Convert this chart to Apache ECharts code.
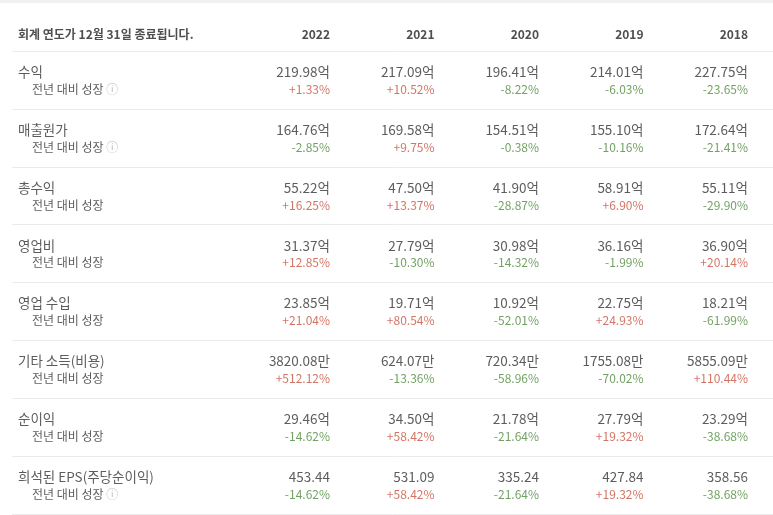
<!DOCTYPE html>
<html><head><meta charset="utf-8">
<script src="https://cdn.jsdelivr.net/npm/echarts@6/dist/echarts.min.js"></script>
<style>html,body{margin:0;padding:0;background:#fff}#c{width:773px;height:515px}</style>
</head><body><div id="c"></div>
<script>
const headerTitle = '회계 연도가 12월 31일 종료됩니다.';
const years = ['2022','2021','2020','2019','2018'];
const rowNames = ['수익','매출원가','총수익','영업비','영업 수입','기타 소득(비용)','순이익','희석된 EPS(주당순이익)'];
const infoRows = [true,true,false,false,false,false,false,true];
const subLabel = '전년 대비 성장';
const values = [
  ['219.98억','217.09억','196.41억','214.01억','227.75억'],
  ['164.76억','169.58억','154.51억','155.10억','172.64억'],
  ['55.22억','47.50억','41.90억','58.91억','55.11억'],
  ['31.37억','27.79억','30.98억','36.16억','36.90억'],
  ['23.85억','19.71억','10.92억','22.75억','18.21억'],
  ['3820.08만','624.07만','720.34만','1755.08만','5855.09만'],
  ['29.46억','34.50억','21.78억','27.79억','23.29억'],
  ['453.44','531.09','335.24','427.84','358.56']
];
const growth = [
  ['+1.33%','+10.52%','-8.22%','-6.03%','-23.65%'],
  ['-2.85%','+9.75%','-0.38%','-10.16%','-21.41%'],
  ['+16.25%','+13.37%','-28.87%','+6.90%','-29.90%'],
  ['+12.85%','-10.30%','-14.32%','-1.99%','+20.14%'],
  ['+21.04%','+80.54%','-52.01%','+24.93%','-61.99%'],
  ['+512.12%','-13.36%','-58.96%','-70.02%','+110.44%'],
  ['-14.62%','+58.42%','-21.64%','+19.32%','-38.68%'],
  ['-14.62%','+58.42%','-21.64%','+19.32%','-38.68%']
];
const FONT = '"Noto Sans CJK KR","Noto Sans",sans-serif';
const RED = '#c8533f', GREEN = '#4f8a3c';
const NAME_X = -1.986, SUB_X = -1.852;

const headerData = [{value:[NAME_X,-0.28], name: headerTitle}];
const yearData = years.map((y,i)=>({value:[i+1,-0.28], name:y}));
const mainData = [], growthData = [], nameData = [], subData = [];
rowNames.forEach((n,r)=>{
  nameData.push({value:[NAME_X,r+1-0.64], name:n});
  subData.push({value:[SUB_X,r+1-0.34], name:n, info:infoRows[r]});
  values[r].forEach((v,c)=>mainData.push({value:[c+1,r+1-0.64], name:v}));
  growth[r].forEach((g,c)=>growthData.push({value:[c+1,r+1-0.34], name:g,
    label:{color: g.startsWith('+')?RED:GREEN}}));
});
function txt(data, label){
  return {type:'scatter', data, symbolSize:1, itemStyle:{color:'transparent'}, silent:true, clip:false,
    label:Object.assign({show:true, position:'inside', formatter:p=>p.name, fontFamily:FONT}, label)};
}
const chart = echarts.init(document.getElementById('c'));
chart.setOption({
  animation:false,
  grid:{left:12, right:0, top:51, height:463},
  xAxis:{type:'value', min:-2.043, max:5.239, show:false},
  yAxis:{type:'value', min:0, max:8, interval:1, inverse:true, axisLabel:{show:false}, axisLine:{show:false}, axisTick:{show:false},
    splitLine:{show:true, lineStyle:{color:'#ebebeb', width:1}}},
  series:[
    txt(headerData,{align:'left', fontSize:12, fontWeight:'bold', color:'#222'}),
    txt(yearData,{align:'right', fontSize:12, fontWeight:'bold', color:'#222'}),
    txt(nameData,{align:'left', fontSize:13.5, color:'#333'}),
    txt(subData,{align:'left', fontSize:12, color:'#333',
      formatter:p=>subLabel + (p.data.info?' {i|ⓘ}':''), rich:{i:{color:'#aaa', fontSize:12, fontFamily:FONT}}}),
    txt(mainData,{align:'right', fontSize:13.5, color:'#333'}),
    txt(growthData,{align:'right', fontSize:12})
  ],
  graphic:[{type:'rect', shape:{x:0,y:0,width:773,height:3}, style:{fill:'#f0f0f0'}}]
});
</script></body></html>
